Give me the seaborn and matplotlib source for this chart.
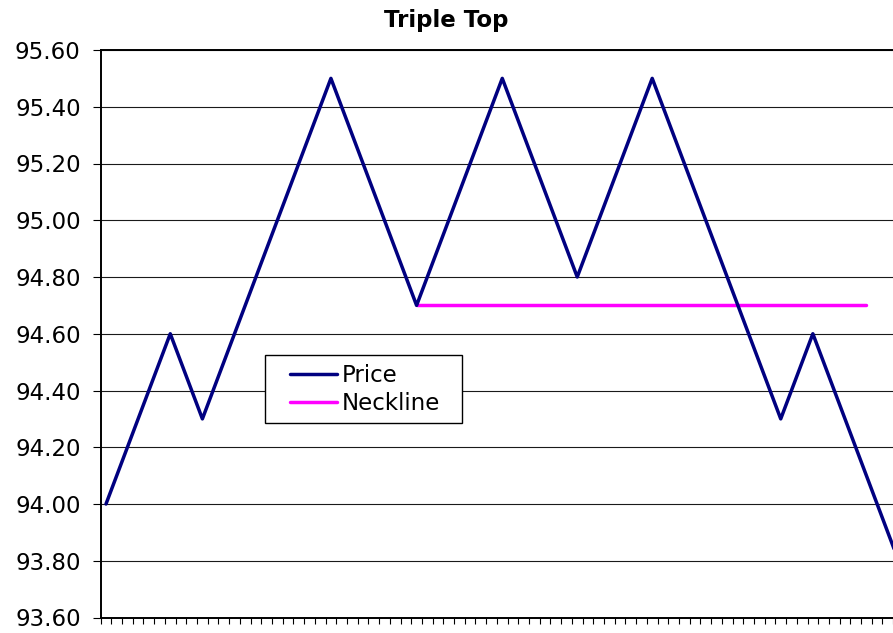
import numpy as np
import pandas as pd
import matplotlib
matplotlib.use("Agg")
import matplotlib.pyplot as plt
from matplotlib.patches import Rectangle
from matplotlib.lines import Line2D
import seaborn as sns

# Price path of a triple-top formation, one value per period
price = [94.0, 94.1, 94.2, 94.3, 94.4, 94.5, 94.6, 94.5, 94.4, 94.3,
         94.4, 94.5, 94.6, 94.7, 94.8, 94.9, 95.0, 95.1, 95.2, 95.3, 95.4, 95.5,
         95.4, 95.3, 95.2, 95.1, 95.0, 94.9, 94.8, 94.7,
         94.8, 94.9, 95.0, 95.1, 95.2, 95.3, 95.4, 95.5,
         95.4, 95.3, 95.2, 95.1, 95.0, 94.9, 94.8,
         94.9, 95.0, 95.1, 95.2, 95.3, 95.4, 95.5,
         95.4, 95.3, 95.2, 95.1, 95.0, 94.9, 94.8, 94.7, 94.6, 94.5, 94.4, 94.3,
         94.4, 94.5, 94.6,
         94.5, 94.4, 94.3, 94.2, 94.1, 94.0, 93.9, 93.8]
periods = list(range(len(price)))

# Neckline support level and the periods it spans
neck_level = 94.7
neck_start, neck_end = 29, 71

series_names = ["Price", "Neckline"]
series_colors = ["#000080", "#FF00FF"]
y_ticks = [93.6, 93.8, 94.0, 94.2, 94.4, 94.6, 94.8, 95.0, 95.2, 95.4, 95.6]

price_df = pd.DataFrame({"period": periods, "value": price})
neck_periods = list(range(neck_start, neck_end + 1))
neck_df = pd.DataFrame({"period": neck_periods,
                        "value": [neck_level] * len(neck_periods)})

sns.set_theme(style="white")
plt.rcParams["font.family"] = ["DejaVu Sans"]
for key in ["text.color", "axes.labelcolor", "xtick.color", "ytick.color"]:
    plt.rcParams[key] = "black"

W, H = 893, 633
fig = plt.figure(figsize=(W / 100, H / 100), dpi=100)
fig.patch.set_facecolor("white")

n = len(periods)
step = 10.71
ax_left = 106 - step / 2
ax_w = n * step
ax_top, ax_bot = 50, 617.5
ax = fig.add_axes([ax_left / W, 1 - ax_bot / H, ax_w / W, (ax_bot - ax_top) / H])

line_w = 2.5
sns.lineplot(data=price_df, x="period", y="value", ax=ax, color=series_colors[0],
             linewidth=line_w, legend=False, zorder=4)
sns.lineplot(data=neck_df, x="period", y="value", ax=ax, color=series_colors[1],
             linewidth=line_w, legend=False, zorder=3)

ax.set_xlim(-0.5, n - 0.5)
ax.set_ylim(y_ticks[0], y_ticks[-1])
ax.set_xlabel("")
ax.set_ylabel("")

ax.set_yticks(y_ticks)
ax.set_yticklabels([f"{v:.2f}" for v in y_ticks], fontsize=16.5, color="black")
ax.yaxis.grid(True, color="#1a1a1a", linewidth=0.8)
ax.set_axisbelow(True)

ax.set_xticks(np.arange(-0.5, n, 1.0))
ax.set_xticklabels([])
ax.tick_params(axis="x", direction="out", length=4, width=0.8, color="black",
               bottom=True)
ax.tick_params(axis="y", direction="out", length=5.8, width=0.8, color="black",
               pad=8.6, left=True)

for side in ["left", "bottom", "top"]:
    ax.spines[side].set_visible(True)
    ax.spines[side].set_color("black")
    ax.spines[side].set_linewidth(1.4)
ax.spines["right"].set_visible(False)

fig.text(0.5, 1 - 20 / H, "Triple Top", ha="center", va="center",
         fontsize=16.5, fontweight="bold", color="black")

# Legend box with its entries
box = Rectangle((265 / W, 1 - 423.3 / H), 197.3 / W, 68.3 / H,
                transform=fig.transFigure, facecolor="white", edgecolor="black",
                linewidth=1.0, zorder=10)
fig.patches.append(box)
handles = [Line2D([], [], color=c, linewidth=line_w) for c in series_colors]
leg = fig.legend(handles, series_names, loc="center left",
                 bbox_to_anchor=(290 / W, 1 - 389.3 / H),
                 bbox_transform=fig.transFigure, frameon=False, borderpad=0,
                 borderaxespad=0, handlelength=2.05, handletextpad=0.22,
                 labelspacing=0.22, prop={"size": 16.5})
for t in leg.get_texts():
    t.set_color("black")
leg.set_zorder(11)

fig.savefig("out.png", dpi=100, facecolor="white")
